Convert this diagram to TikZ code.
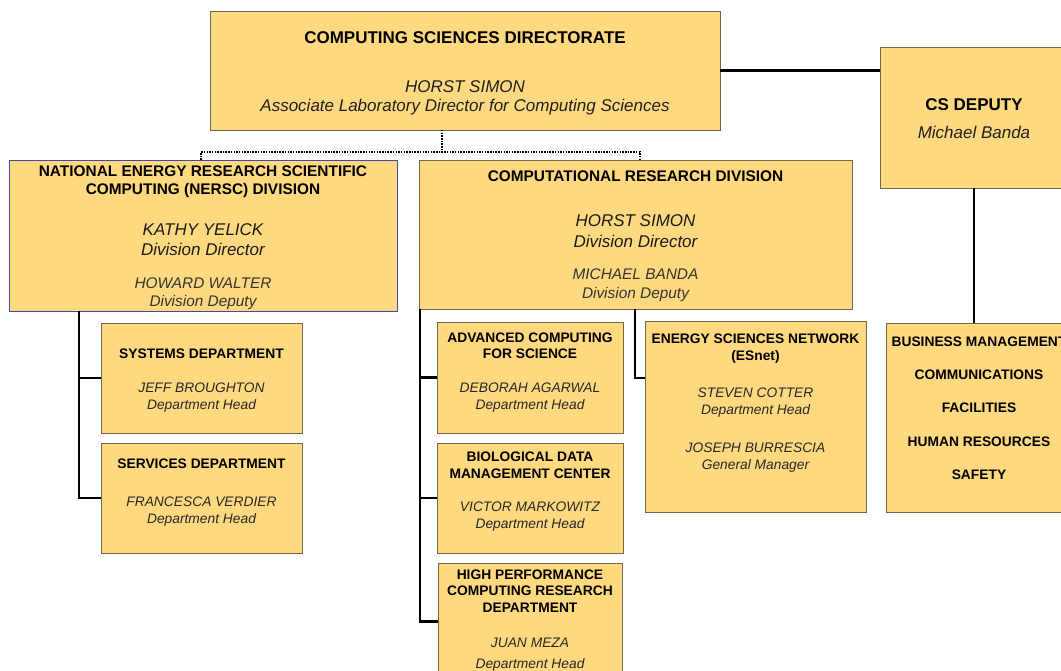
\documentclass[tikz,border=0pt]{standalone}
\usepackage{fontspec}
\setmainfont{Liberation Sans}
\usetikzlibrary{positioning}
\usetikzlibrary{calc}

\definecolor{boxfill}{RGB}{255,217,128}
\definecolor{boxline}{RGB}{112,102,72}
\definecolor{nerscline}{RGB}{70,70,170}

\begin{document}
\begin{tikzpicture}[x=1pt,y=-1pt]
    \tikzstyle orgbox=[draw=boxline, fill=boxfill, line width=0.8pt, inner sep=0pt, outer sep=0pt, anchor=north west]
    \tikzstyle txt=[inner sep=0pt, outer sep=0pt, align=center]
    \tikzstyle headL=[txt, font=\fontsize{17}{19}\selectfont\bfseries]
    \tikzstyle headM=[txt, font=\fontsize{15.4}{18}\selectfont\bfseries]
    \tikzstyle headS=[txt, font=\fontsize{13.8}{16.5}\selectfont\bfseries]
    \tikzstyle whoL=[txt, text=black!88, font=\fontsize{17}{20}\selectfont\itshape]
    \tikzstyle whoM=[txt, text=black!80, font=\fontsize{15.4}{18}\selectfont\itshape]
    \tikzstyle whoS=[txt, text=black!85, font=\fontsize{13.8}{17}\selectfont\itshape]
    \tikzstyle link=[black, line width=2.2pt]
    \tikzstyle dotlink=[black, line width=2.2pt, dash pattern=on 1.5pt off 1.2pt]

    \useasboundingbox (0,0) rectangle (1061,671);

    % directorate and deputy
    \node[orgbox, minimum width=510, minimum height=119] (csd) at (210,11) {};
    \node[headL, below=20.5pt of csd.north] (csd-title) {COMPUTING SCIENCES DIRECTORATE};
    \node[whoL, font=\fontsize{17}{19}\selectfont\itshape, below=69.5pt of csd.north] (csd-who)
        {HORST SIMON\\Associate Laboratory Director for Computing Sciences};

    \node[orgbox, minimum width=188, minimum height=141] (dep) at (880,47) {};
    \node[headL, below=51.5pt of dep.north] (dep-title) {CS DEPUTY};
    \node[whoL, below=79.5pt of dep.north] (dep-who) {Michael Banda};

    % divisions
    \node[orgbox, draw=nerscline, minimum width=388, minimum height=151] (nersc) at (9,160) {};
    \node[headM, font=\fontsize{15.4}{18}\selectfont\bfseries, below=6pt of nersc.north] (nersc-title)
        {NATIONAL ENERGY RESEARCH SCIENTIFIC\\COMPUTING (NERSC) DIVISION};
    \node[whoL, text=black!90, below=63.5pt of nersc.north] (nersc-dir) {KATHY YELICK\\Division Director};
    \node[whoM, below=118pt of nersc.north] (nersc-dep) {HOWARD WALTER\\Division Deputy};

    \node[orgbox, minimum width=433, minimum height=149] (crd) at (419,160) {};
    \node[headM, below=11pt of crd.north] (crd-title) {COMPUTATIONAL RESEARCH DIVISION};
    \node[whoL, font=\fontsize{17}{21}\selectfont\itshape, text=black!90, below=54.5pt of crd.north] (crd-dir)
        {HORST SIMON\\Division Director};
    \node[whoM, font=\fontsize{15.4}{19}\selectfont\itshape, below=109pt of crd.north] (crd-dep)
        {MICHAEL BANDA\\Division Deputy};

    % NERSC departments
    \node[orgbox, minimum width=201, minimum height=110] (sys) at (101,323) {};
    \node[headS, below=25.5pt of sys.north] (sys-title) {SYSTEMS DEPARTMENT};
    \node[whoS, below=59.5pt of sys.north] (sys-who) {JEFF BROUGHTON\\Department Head};

    \node[orgbox, minimum width=201, minimum height=110] (svc) at (101,443) {};
    \node[headS, below=15.5pt of svc.north] (svc-title) {SERVICES DEPARTMENT};
    \node[whoS, below=53.5pt of svc.north] (svc-who) {FRANCESCA VERDIER\\Department Head};

    % CRD departments
    \node[orgbox, minimum width=186, minimum height=111] (acs) at (437,322) {};
    \node[headS, below=10.5pt of acs.north] (acs-title) {ADVANCED COMPUTING\\FOR SCIENCE};
    \node[whoS, below=60.5pt of acs.north] (acs-who) {DEBORAH AGARWAL\\Department Head};

    \node[orgbox, minimum width=186, minimum height=110] (bio) at (437,443) {};
    \node[headS, font=\fontsize{13.8}{17}\selectfont\bfseries, below=8.5pt of bio.north] (bio-title)
        {BIOLOGICAL DATA\\MANAGEMENT CENTER};
    \node[whoS, below=58.5pt of bio.north] (bio-who) {VICTOR MARKOWITZ\\Department Head};

    \node[orgbox, minimum width=184, minimum height=117] (hpc) at (438,563) {};
    \node[headS, below=6.5pt of hpc.north] (hpc-title) {HIGH PERFORMANCE\\COMPUTING RESEARCH\\DEPARTMENT};
    \node[whoS, font=\fontsize{13.8}{21}\selectfont\itshape, below=75.5pt of hpc.north] (hpc-who)
        {JUAN MEZA\\Department Head};

    \node[orgbox, minimum width=221, minimum height=191] (esn) at (645,321) {};
    \node[headS, font=\fontsize{13.8}{17}\selectfont\bfseries, below=12.5pt of esn.north] (esn-title)
        {ENERGY SCIENCES NETWORK\\(ESnet)};
    \node[whoS, below=66.5pt of esn.north] (esn-head) {STEVEN COTTER\\Department Head};
    \node[whoS, below=121.5pt of esn.north] (esn-gm) {JOSEPH BURRESCIA\\General Manager};

    % support units under the deputy
    \node[orgbox, minimum width=186, minimum height=189] (adm) at (886,323) {};
    \node[headS, font=\fontsize{13.8}{33.3}\selectfont\bfseries, below=13.5pt of adm.north] (adm-list)
        {BUSINESS MANAGEMENT\\COMMUNICATIONS\\FACILITIES\\HUMAN RESOURCES\\SAFETY};

    % connectors
    \draw[link] (csd.east) -- (csd.east -| dep.west);
    \draw[link] (dep.south) -- (dep.south |- adm.north);

    \coordinate (fork) at ($(csd.south west)+(232,22)$);
    \draw[dotlink] (fork |- csd.south) -- (fork);
    \draw[dotlink] ($(nersc.north west)+(192,0)$) |- (fork) -| ($(crd.north west)+(221,0)$);

    \coordinate (ntrunk) at ($(nersc.south west)+(70,0)$);
    \draw[link] (ntrunk) |- (svc.west);
    \draw[link] (sys.west) -- (sys.west -| ntrunk);

    \coordinate (ctrunk) at ($(crd.south west)+(1,0)$);
    \draw[link] (ctrunk) |- (hpc.west);
    \foreach \d in {acs,bio}
        \draw[link] (\d.west) -- (\d.west -| ctrunk);
    \draw[link] ($(crd.south west)+(216,0)$) |- ($(esn.north west)+(0,57)$);
\end{tikzpicture}
\end{document}
